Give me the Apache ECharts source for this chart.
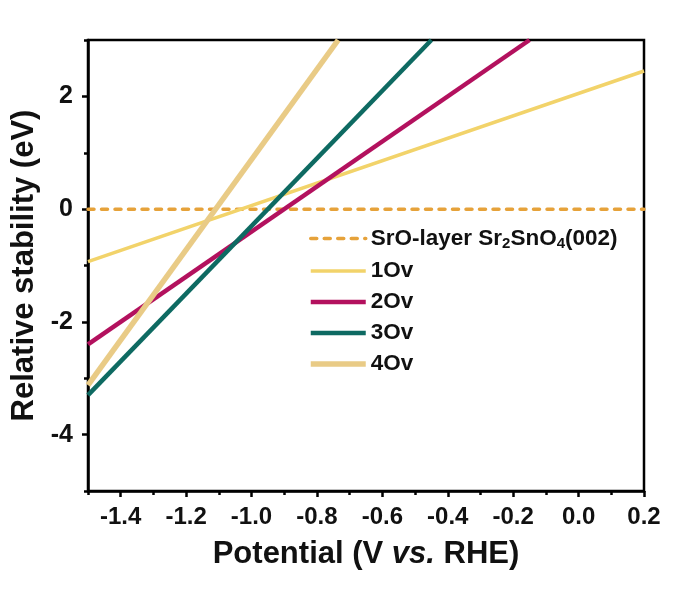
<!DOCTYPE html>
<html>
<head>
<meta charset="utf-8">
<script src="https://cdn.jsdelivr.net/npm/echarts@6/dist/echarts.min.js"></script>
<style>html,body{margin:0;padding:0;background:#fff}#c{width:685px;height:597px}</style>
</head>
<body>
<div id="c"></div>
<script>
// ---- data ----
const refX = [-1.5, 0.2];
const refY = [0, 0];
const ov1X = [-1.5, 0.2];
const ov1Y = [-0.93, 2.45];
const ov2X = [-1.5, -0.15];
const ov2Y = [-2.40, 3.0];
const ov3X = [-1.5, -0.45];
const ov3Y = [-3.30, 3.0];
const ov4X = [-1.5, -0.735];
const ov4Y = [-3.12, 3.0];

const xMajor = [-1.4, -1.2, -1.0, -0.8, -0.6, -0.4, -0.2, 0.0, 0.2];
const xMinor = [-1.5, -1.3, -1.1, -0.9, -0.7, -0.5, -0.3, -0.1, 0.1];
const yMajor = [-4, -2, 0, 2];
const yMinor = [-5, -3, -1, 1, 3];

const names = ['SrO-layer Sr2SnO4(002)', '1Ov', '2Ov', '3Ov', '4Ov'];

function pairs(xs, ys) { return xs.map((x, i) => [x, ys[i]]); }

const font = 'Arial, "Liberation Sans", sans-serif';
const chart = echarts.init(document.getElementById('c'));
chart.setOption({
  backgroundColor: '#fff',
  animation: false,
  grid: { left: 88, right: 41, top: 40, bottom: 106, show: true, borderColor: '#000', borderWidth: 2.5, backgroundColor: 'transparent' },
  xAxis: [{
    type: 'value', min: -1.5, max: 0.2,
    name: 'Potential (V {i|vs.} RHE)', nameLocation: 'middle', nameGap: 48,
    nameTextStyle: { fontFamily: font, fontWeight: 'bold', fontSize: 31, color: '#111',
      rich: { i: { fontFamily: font, fontWeight: 'bold', fontStyle: 'italic', fontSize: 31, color: '#111' } } },
    axisLine: { show: true, onZero: false, lineStyle: { color: '#000', width: 2.5 } },
    axisTick: { show: true, customValues: xMajor, length: 6, lineStyle: { color: '#000', width: 2.5 } },
    axisLabel: { customValues: xMajor, margin: 14, fontFamily: font, fontWeight: 'bold', fontSize: 24, color: '#111',
      formatter: v => v.toFixed(1) },
    splitLine: { show: false }
  }, {
    type: 'value', min: -1.5, max: 0.2, position: 'bottom',
    axisLine: { show: false, onZero: false },
    axisTick: { show: true, customValues: xMinor, length: 4, lineStyle: { color: '#000', width: 2.5 } },
    axisLabel: { show: false },
    splitLine: { show: false }
  }],
  yAxis: [{
    type: 'value', min: -5, max: 3,
    name: 'Relative stability (eV)', nameLocation: 'middle', nameGap: 42,
    nameTextStyle: { fontFamily: font, fontWeight: 'bold', fontSize: 31, color: '#111' },
    axisLine: { show: true, onZero: false, lineStyle: { color: '#000', width: 2.5 } },
    axisTick: { show: true, customValues: yMajor, length: 6, lineStyle: { color: '#000', width: 2.5 } },
    axisLabel: { customValues: yMajor, margin: 15, fontFamily: font, fontWeight: 'bold', fontSize: 25, color: '#111' },
    splitLine: { show: false }
  }, {
    type: 'value', min: -5, max: 3, position: 'left',
    axisLine: { show: false, onZero: false },
    axisTick: { show: true, customValues: yMinor, length: 4, lineStyle: { color: '#000', width: 2.5 } },
    axisLabel: { show: false },
    splitLine: { show: false }
  }],
  legend: {
    orient: 'vertical', left: 308, top: 227, padding: 0,
    itemWidth: 55, itemHeight: 14, itemGap: 8,
    data: names,
    itemStyle: { opacity: 0 },
    lineStyle: { width: 'inherit' },
    textStyle: { fontFamily: font, fontWeight: 'bold', fontSize: 22.5, color: '#111',
      rich: { s: { fontFamily: font, fontWeight: 'bold', fontSize: 15, color: '#111', padding: [11, 0, 0, 0] } } },
    formatter: n => n === names[0] ? 'SrO-layer Sr{s|2}SnO{s|4}(002)' : n
  },
  series: [
    { name: names[0], type: 'line', data: pairs(refX, refY), symbol: 'none', z: 2,
      lineStyle: { color: '#E6A23A', width: 3.5, type: [6, 7.5], cap: 'round' }, itemStyle: { color: '#E6A23A' } },
    { name: names[1], type: 'line', data: pairs(ov1X, ov1Y), symbol: 'none', z: 3,
      lineStyle: { color: '#F2D36A', width: 3.5 }, itemStyle: { color: '#F2D36A' } },
    { name: names[2], type: 'line', data: pairs(ov2X, ov2Y), symbol: 'none', z: 3,
      lineStyle: { color: '#B3115E', width: 4.5 }, itemStyle: { color: '#B3115E' } },
    { name: names[3], type: 'line', data: pairs(ov3X, ov3Y), symbol: 'none', z: 3,
      lineStyle: { color: '#0E6A62', width: 4.5 }, itemStyle: { color: '#0E6A62' } },
    { name: names[4], type: 'line', data: pairs(ov4X, ov4Y), symbol: 'none', z: 3,
      lineStyle: { color: '#E9CB86', width: 5.5 }, itemStyle: { color: '#E9CB86' } }
  ]
});
</script>
</body>
</html>
